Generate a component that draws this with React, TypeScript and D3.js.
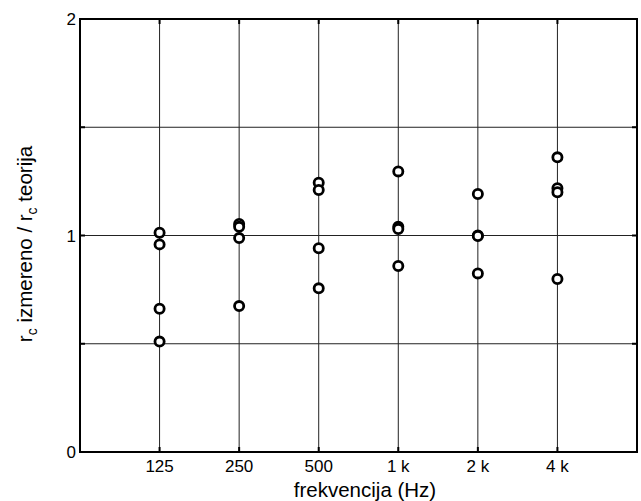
import React, { useEffect, useRef } from 'react'
import * as d3 from 'd3'

// frequency bands (Hz)
const bands = ['125', '250', '500', '1 k', '2 k', '4 k']

// measured / theoretical ratio, four measurements per band
const ratio125 = [1.013, 0.959, 0.662, 0.51]
const ratio250 = [1.053, 1.04, 0.988, 0.674]
const ratio500 = [1.244, 1.21, 0.941, 0.756]
const ratio1k = [1.296, 1.04, 1.03, 0.859]
const ratio2k = [1.192, 1.0, 0.998, 0.825]
const ratio4k = [1.361, 1.218, 1.2, 0.799]

const yTicks = [0, 1, 2]
const yGrid = [0.5, 1, 1.5]

const W = 641
const H = 501
const margin = { left: 80, top: 19, right: 4, bottom: 49 }

const App = () => {
    const svgRef = useRef<SVGSVGElement>(null)

    useEffect(() => {
        const svg = d3.select(svgRef.current)
        svg.selectAll('*').remove()

        const x0 = margin.left
        const x1 = W - margin.right
        const y0 = H - margin.bottom
        const y1 = margin.top

        const x = d3.scaleLinear().domain([0, bands.length + 1]).range([x0, x1])
        const y = d3.scaleLinear().domain([0, 2]).range([y0, y1])

        const series = [ratio125, ratio250, ratio500, ratio1k, ratio2k, ratio4k]
        const points = series.flatMap((vals, i) => vals.map(v => ({ i: i + 1, v })))

        const font = 'Liberation Sans, Arial, Helvetica, sans-serif'

        // grid
        svg.append('g')
            .selectAll('line')
            .data(bands)
            .enter()
            .append('line')
            .attr('x1', (d, i) => x(i + 1))
            .attr('x2', (d, i) => x(i + 1))
            .attr('y1', y0)
            .attr('y2', y1)
            .attr('stroke', '#222')
            .attr('stroke-width', 1)

        svg.append('g')
            .selectAll('line')
            .data(yGrid)
            .enter()
            .append('line')
            .attr('x1', x0)
            .attr('x2', x1)
            .attr('y1', d => y(d))
            .attr('y2', d => y(d))
            .attr('stroke', '#222')
            .attr('stroke-width', 1)

        // tick marks (inside, on both sides)
        const tickLen = 5
        const ticks = svg.append('g').attr('stroke', '#000').attr('stroke-width', 2)
        bands.forEach((b, i) => {
            ticks.append('line').attr('x1', x(i + 1)).attr('x2', x(i + 1)).attr('y1', y0).attr('y2', y0 - tickLen)
            ticks.append('line').attr('x1', x(i + 1)).attr('x2', x(i + 1)).attr('y1', y1).attr('y2', y1 + tickLen)
        })
        ;[0, 0.5, 1, 1.5, 2].forEach(t => {
            ticks.append('line').attr('x1', x0).attr('x2', x0 + tickLen).attr('y1', y(t)).attr('y2', y(t))
            ticks.append('line').attr('x1', x1).attr('x2', x1 - tickLen).attr('y1', y(t)).attr('y2', y(t))
        })

        // frame
        svg.append('rect')
            .attr('x', x0)
            .attr('y', y1)
            .attr('width', x1 - x0)
            .attr('height', y0 - y1)
            .attr('fill', 'none')
            .attr('stroke', '#000')
            .attr('stroke-width', 2)

        // markers
        svg.append('g')
            .selectAll('circle')
            .data(points)
            .enter()
            .append('circle')
            .attr('cx', d => x(d.i))
            .attr('cy', d => y(d.v))
            .attr('r', 4.6)
            .attr('fill', '#fff')
            .attr('stroke', '#000')
            .attr('stroke-width', 2.8)

        // tick labels
        svg.append('g')
            .selectAll('text')
            .data(bands)
            .enter()
            .append('text')
            .attr('x', (d, i) => x(i + 1))
            .attr('y', y0 + 20)
            .attr('text-anchor', 'middle')
            .attr('font-family', font)
            .attr('font-size', 17)
            .text(d => d)

        svg.append('g')
            .selectAll('text')
            .data(yTicks)
            .enter()
            .append('text')
            .attr('x', x0 - 4)
            .attr('y', d => y(d))
            .attr('dy', '0.36em')
            .attr('text-anchor', 'end')
            .attr('font-family', font)
            .attr('font-size', 17)
            .text(d => d)

        // axis labels
        svg.append('text')
            .attr('x', 365)
            .attr('y', 497)
            .attr('text-anchor', 'middle')
            .attr('font-family', font)
            .attr('font-size', 20.5)
            .text('frekvencija (Hz)')

        const yl = svg.append('text')
            .attr('transform', 'translate(32,244) rotate(-90)')
            .attr('text-anchor', 'middle')
            .attr('font-family', font)
            .attr('font-size', 20.5)
        yl.append('tspan').text('r')
        yl.append('tspan').attr('dy', 5).attr('font-size', 14).text('c')
        yl.append('tspan').attr('dy', -5).text(' izmereno / r')
        yl.append('tspan').attr('dy', 5).attr('font-size', 14).text('c')
        yl.append('tspan').attr('dy', -5).text(' teorija')
    }, [])

    return (
        <svg ref={svgRef} width={W} height={H} style={{ position: 'absolute', left: 0, top: 0, background: '#fff' }}></svg>
    )
}

export default App
